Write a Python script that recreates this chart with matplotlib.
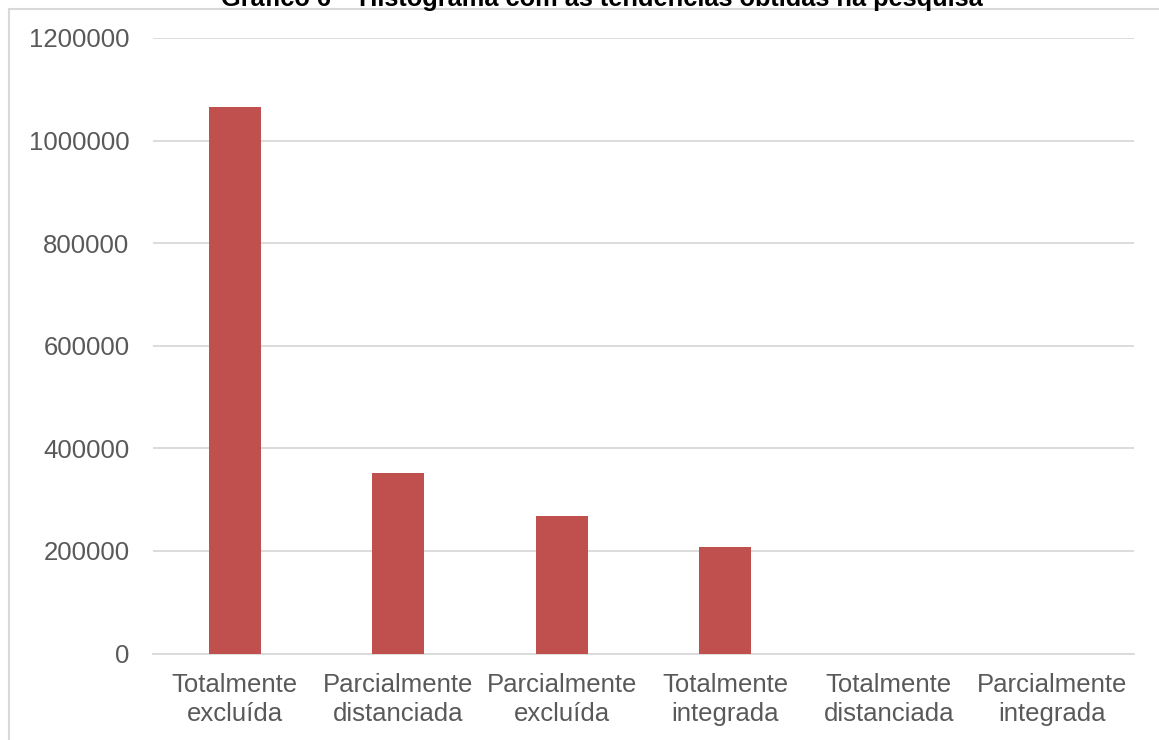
import matplotlib
matplotlib.use('Agg')
import matplotlib.pyplot as plt
from matplotlib.patches import Rectangle
import numpy as np

plt.rcParams['font.family'] = ['Liberation Sans', 'DejaVu Sans']

categories = ['Totalmente\nexcluída', 'Parcialmente\ndistanciada', 'Parcialmente\nexcluída',
              'Totalmente\nintegrada', 'Totalmente\ndistanciada', 'Parcialmente\nintegrada']
values = [1066000, 351000, 269000, 208000, 0, 0]
yticks = [0, 200000, 400000, 600000, 800000, 1000000, 1200000]
title = 'Gráfico 6 – Histograma com as tendências obtidas na pesquisa'

W, H = 1159, 740
fig = plt.figure(figsize=(W / 100, H / 100), dpi=100)
ax = fig.add_axes([153 / W, 1 - 653.5 / H, (1134 - 153) / W, (653.5 - 37.9) / H])

x = np.arange(len(categories))
ax.bar(x, values, width=0.316, color='#c0504d', zorder=3)

ax.set_xlim(-0.5, len(categories) - 0.5)
ax.set_ylim(0, 1200000)
ax.set_yticks(yticks)
ax.set_yticklabels([str(v) for v in yticks])
ax.set_xticks(x)
ax.set_xticklabels(categories, linespacing=1.25)

ax.grid(axis='y', color='#d9d9d9', linewidth=1.3, zorder=0)
for s in ['top', 'right', 'left']:
    ax.spines[s].set_visible(False)
ax.spines['bottom'].set_color('#d9d9d9')
ax.spines['bottom'].set_linewidth(1.3)
ax.tick_params(axis='both', length=0, labelsize=18.5, colors='#595959')
ax.tick_params(axis='y', pad=17)
ax.tick_params(axis='x', pad=14)

# chart border (only top and left edges visible in the crop)
fig.patches.append(Rectangle((9 / W, -0.1), 2.0, 1 - 9 / H + 0.1,
                             transform=fig.transFigure, fill=False,
                             edgecolor='#d9d9d9', linewidth=1.5))

fig.text(0.519, 1 - 6 / H, title, ha='center', va='baseline',
         fontsize=18.3, fontweight='bold', color='black')

fig.savefig('out.png', dpi=100)
